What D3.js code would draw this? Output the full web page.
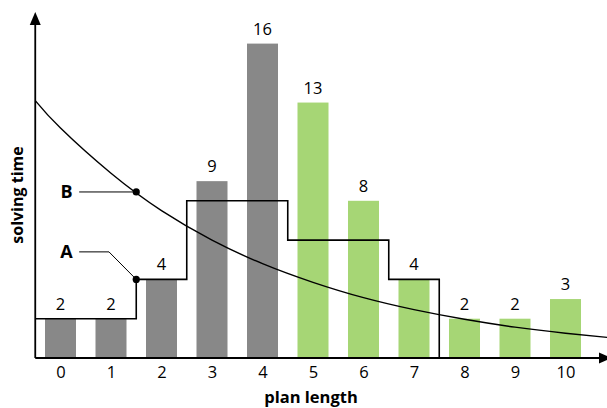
<!DOCTYPE html>
<meta charset="utf-8">
<script src="https://cdn.jsdelivr.net/npm/d3@7"></script>
<style>
  body { margin: 0; background: #fff; }
  text { font-family: "Open Sans", sans-serif; }
</style>
<div id="vis"></div>
<script>
// bars
const planLength = [0, 1, 2, 3, 4, 5, 6, 7, 8, 9, 10]
const counts     = [2, 2, 4, 9, 16, 13, 8, 4, 2, 2, 3]
const greenFrom  = 5

// step outline (x where each step starts, value held until next x)
const stepX   = [-0.5, 1.5, 2.5, 4.5, 6.5, 7.5]
const stepVal = [2, 4, 8, 6, 4, 0]

// solving-time curve
const curveX   = [-0.5, 0, 1, 2, 3, 4, 5, 6, 7, 8, 9, 10, 10.9]
const curveVal = [13.1, 11.7, 9.4, 7.5, 6.0, 4.8, 3.85, 3.07, 2.46, 1.97, 1.57, 1.26, 1.03]

// annotated points
const markNames = ["A", "B"]
const markX     = [1.5, 1.5]
const markVal   = [4, 8.45]

function drawvis() {
  const W = 607, H = 408
  const svg = d3.select("#vis").append("svg")
    .attr("width", W).attr("height", H)

  const x = d3.scaleLinear().domain([0, 10]).range([60.5, 565.5])
  const y = d3.scaleLinear().domain([0, 16]).range([358, 43.6])
  const barW = (x(1) - x(0)) * 0.614

  // bars
  svg.append("g").selectAll("rect")
    .data(counts)
    .enter().append("rect")
    .attr("x", (d, i) => x(planLength[i]) - barW / 2)
    .attr("y", d => y(d))
    .attr("width", barW)
    .attr("height", d => y(0) - y(d))
    .attr("fill", (d, i) => planLength[i] >= greenFrom ? "#a6d675" : "#888888")

  // value labels
  svg.append("g").selectAll("text")
    .data(counts)
    .enter().append("text")
    .attr("x", (d, i) => x(planLength[i]))
    .attr("y", d => y(d) - 9)
    .attr("text-anchor", "middle")
    .attr("font-size", 16.5)
    .text(d => d)

  // step outline
  const stepPts = stepX.map((v, i) => [v, stepVal[i]])
  svg.append("path")
    .attr("d", d3.line().x(d => x(d[0])).y(d => y(d[1])).curve(d3.curveStepAfter)(stepPts))
    .attr("fill", "none").attr("stroke", "#000").attr("stroke-width", 1.6)

  // curve
  const curvePts = curveX.map((v, i) => [v, curveVal[i]])
  svg.append("path")
    .attr("d", d3.line().x(d => x(d[0])).y(d => y(d[1])).curve(d3.curveNatural)(curvePts))
    .attr("fill", "none").attr("stroke", "#000").attr("stroke-width", 1.4)

  // axes
  const x0 = x(-0.5), y0 = y(0)
  svg.append("line").attr("x1", x0).attr("y1", y0).attr("x2", x0).attr("y2", 20)
    .attr("stroke", "#000").attr("stroke-width", 1.8)
  svg.append("path").attr("d", `M${x0},12 L${x0 - 5.5},25 L${x0 + 5.5},25 Z`)
  svg.append("line").attr("x1", x0).attr("y1", y0).attr("x2", 600).attr("y2", y0)
    .attr("stroke", "#000").attr("stroke-width", 1.8)
  svg.append("path").attr("d", `M612,${y0} L599,${y0 - 5.5} L599,${y0 + 5.5} Z`)

  const xAxis = d3.axisBottom(x).tickValues(planLength).tickSize(0).tickPadding(8)
  const ax = svg.append("g").attr("transform", `translate(0,${y0})`).call(xAxis)
  ax.select(".domain").remove()
  ax.selectAll("text").attr("font-size", 16.5).attr("fill", "#000")
    .style("font-family", "'Open Sans', sans-serif")

  svg.append("text")
    .attr("x", 311).attr("y", 403)
    .attr("text-anchor", "middle").attr("font-size", 16.5).attr("font-weight", "bold")
    .text("plan length")
  svg.append("text")
    .attr("transform", "translate(23,195) rotate(-90)")
    .attr("text-anchor", "middle").attr("font-size", 16).attr("font-weight", "bold")
    .text("solving time")

  // annotations
  const labelX = 0.12, leadX = 0.37
  const kneeA = [0.96, 5.4]
  const bY = markVal[1]
  svg.append("path")
    .attr("d", d3.line()([[x(leadX), y(bY)], [x(markX[1]), y(bY)]]))
    .attr("stroke", "#000").attr("stroke-width", 1)
  svg.append("path")
    .attr("d", d3.line()([[x(leadX), y(kneeA[1])], [x(kneeA[0]), y(kneeA[1])], [x(markX[0]), y(markVal[0])]]))
    .attr("fill", "none").attr("stroke", "#000").attr("stroke-width", 1)

  svg.append("g").selectAll("circle")
    .data(markNames)
    .enter().append("circle")
    .attr("cx", (d, i) => x(markX[i]))
    .attr("cy", (d, i) => y(markVal[i]))
    .attr("r", 3.6)

  const labY = [kneeA[1], bY]
  svg.append("g").selectAll("text")
    .data(markNames)
    .enter().append("text")
    .attr("x", x(labelX))
    .attr("y", (d, i) => y(labY[i]))
    .attr("dy", "0.36em")
    .attr("text-anchor", "middle")
    .attr("font-size", 18).attr("font-weight", "bold")
    .text(d => d)
}
drawvis()
</script>
